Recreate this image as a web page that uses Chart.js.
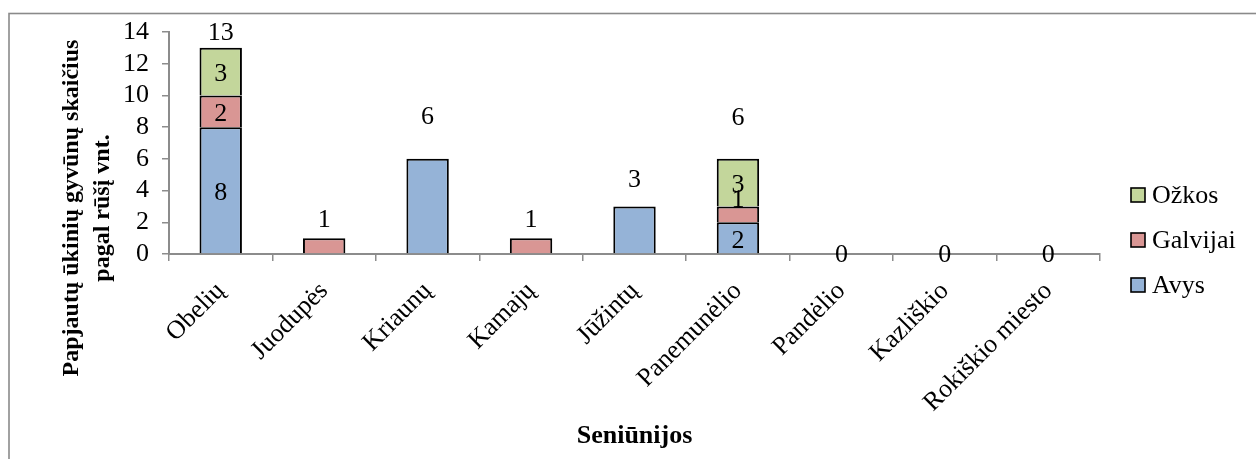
<!DOCTYPE html>
<html>
<head>
<meta charset="utf-8">
<script src="https://cdn.jsdelivr.net/npm/chart.js@4"></script>
<style>
  html, body { margin: 0; padding: 0; background: #fff; }
  #wrap { width: 1256px; height: 459px; position: relative; }
</style>
</head>
<body>
<div id="wrap"><canvas id="c" width="1256" height="459"></canvas></div>
<script>
// Seniūnijos (districts) and slaughtered livestock counts by species
const categories = ['Obelių', 'Juodupės', 'Kriaunų', 'Kamajų', 'Jūžintų', 'Panemunėlio', 'Pandėlio', 'Kazliškio', 'Rokiškio miesto'];
const avys     = [8, 0, 6, 0, 3, 2, 0, 0, 0];
const galvijai = [2, 1, 0, 1, 0, 1, 0, 0, 0];
const ozkos    = [3, 0, 0, 0, 0, 3, 0, 0, 0];
const seriesNames = ['Avys', 'Galvijai', 'Ožkos'];
const yTicks = [0, 2, 4, 6, 8, 10, 12, 14];
const yTitleLines = ['Papjautų ūkinių gyvūnų skaičius', 'pagal rūšį vnt.'];
const xTitle = 'Seniūnijos';

const FONT = '"Liberation Serif", "Times New Roman", serif';
const AXIS_GREY = '#8c8c8c';

// Frame, axis titles, legend and value labels
const decorations = {
  id: 'decorations',
  beforeDraw(chart) {
    const ctx = chart.ctx;
    ctx.save();
    ctx.fillStyle = '#fff';
    ctx.fillRect(0, 0, chart.width, chart.height);
    ctx.strokeStyle = '#8a8a8a';
    ctx.lineWidth = 1.6;
    ctx.strokeRect(9, 13.5, chart.width + 20, chart.height + 20);
    ctx.restore();
  },
  afterDraw(chart, args, opts) {
    const ctx = chart.ctx;
    const xs = chart.scales.x, ys = chart.scales.y;
    const area = chart.chartArea;
    ctx.save();
    ctx.fillStyle = '#000';

    // y-axis title (two rotated lines)
    ctx.font = 'bold 24px ' + FONT;
    ctx.textAlign = 'center';
    ctx.textBaseline = 'middle';
    ctx.save();
    ctx.translate(opts.yTitleX, opts.yTitleY);
    ctx.rotate(-Math.PI / 2);
    yTitleLines.forEach((line, i) => ctx.fillText(line, 0, i * opts.yTitleLineGap));
    ctx.restore();

    // x-axis title
    ctx.font = 'bold 26px ' + FONT;
    ctx.fillText(xTitle, (area.left + area.right) / 2, opts.xTitleY);

    // legend, top entry is the last series
    ctx.font = '26px ' + FONT;
    ctx.textAlign = 'left';
    const dsets = chart.data.datasets.slice().reverse();
    dsets.forEach((ds, i) => {
      const cy = opts.legendTop + i * opts.legendGap;
      ctx.fillStyle = ds.backgroundColor;
      ctx.fillRect(opts.legendX, cy - 7, 14, 14);
      ctx.strokeStyle = '#000';
      ctx.lineWidth = 1.6;
      ctx.strokeRect(opts.legendX, cy - 7, 14, 14);
      ctx.fillStyle = '#000';
      ctx.fillText(ds.label, opts.legendX + 21, cy + 1);
    });

    // value labels
    ctx.textAlign = 'center';
    ctx.textBaseline = 'middle';
    ctx.font = '26px ' + FONT;
    const series = chart.data.datasets.map(d => d.data);
    categories.forEach((cat, i) => {
      const x = xs.getPixelForValue(i);
      const vals = series.map(s => s[i]);
      const total = vals.reduce((a, b) => a + b, 0);
      // total above the stack
      ctx.fillText(String(total), x, ys.getPixelForValue(total) - opts.totalLift[i]);
      // segment values inside mixed stacks
      const nonZero = vals.filter(v => v > 0).length;
      if (nonZero > 1) {
        let base = 0;
        vals.forEach(v => {
          if (v > 0) {
            const top = ys.getPixelForValue(base + v);
            const bottom = ys.getPixelForValue(base);
            let y = (top + bottom) / 2 + 3;
            if (bottom - top < 20) y -= 17;
            ctx.fillText(String(v), x, y);
          }
          base += v;
        });
      }
    });
    ctx.restore();
  }
};

const colors = ['#95B3D7', '#D99694', '#C3D69B'];
const seriesData = [avys, galvijai, ozkos];

new Chart(document.getElementById('c'), {
  type: 'bar',
  data: {
    labels: categories,
    datasets: seriesData.map((d, i) => ({
      label: seriesNames[i],
      data: d,
      backgroundColor: colors[i],
      borderColor: '#000',
      borderWidth: 2,
      barPercentage: 0.41,
      categoryPercentage: 1
    }))
  },
  options: {
    responsive: false,
    animation: false,
    layout: { padding: { left: 0, top: 32, right: 156, bottom: 0 } },
    plugins: {
      legend: { display: false },
      tooltip: { enabled: false },
      decorations: {
        yTitleX: 72, yTitleY: 208, yTitleLineGap: 31,
        xTitleY: 436,
        legendX: 1131, legendTop: 195, legendGap: 45,
        totalLift: [15, 18, 42, 18, 26, 41, -1, -1, -1]
      }
    },
    scales: {
      x: {
        stacked: true,
        grid: { display: true, drawOnChartArea: false, offset: true, tickLength: 7, color: AXIS_GREY, lineWidth: 1.5 },
        border: { color: AXIS_GREY, width: 2 },
        ticks: {
          autoSkip: false, minRotation: 45, maxRotation: 45, padding: 15,
          color: '#000', font: { family: FONT, size: 26 }
        },
        afterFit(scale) { scale.height = 459 - 254; }
      },
      y: {
        stacked: true,
        min: 0, max: 14,
        afterBuildTicks(scale) { scale.ticks = yTicks.map(v => ({ value: v })); },
        grid: { display: true, drawOnChartArea: false, tickLength: 7, color: AXIS_GREY, lineWidth: 1.5 },
        border: { color: AXIS_GREY, width: 2 },
        ticks: { autoSkip: false, stepSize: 2, padding: 13, color: '#000', font: { family: FONT, size: 26 } },
        afterFit(scale) { scale.width = 169; }
      }
    }
  },
  plugins: [decorations]
});
</script>
</body>
</html>
